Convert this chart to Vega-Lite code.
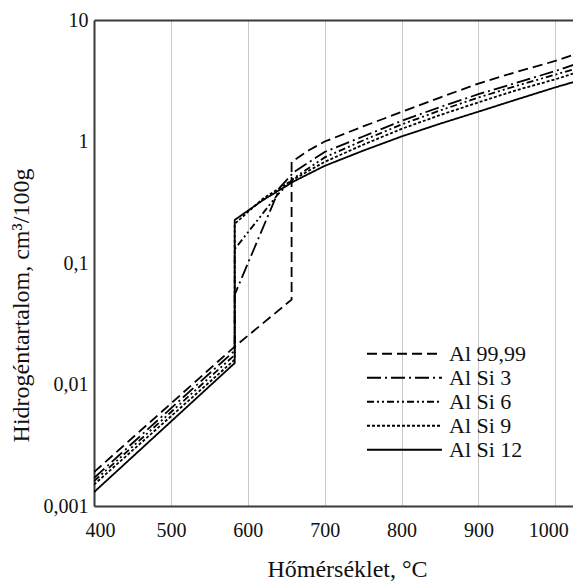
{
  "$schema": "https://vega.github.io/schema/vega-lite/v6.json",
  "width": 479,
  "height": 486,
  "autosize": {"type": "none"},
  "padding": {"left": 94, "top": 20, "right": 0, "bottom": 77},
  "background": "white",
  "config": {
    "view": {"stroke": null},
    "font": "Liberation Serif",
    "axis": {"labelFont": "Liberation Serif", "titleFont": "Liberation Serif", "labelColor": "#111", "titleColor": "#111", "titleFontWeight": "normal"}
  },
  "data": {"values": [
    {"alloy": "Al 99,99", "i": 0, "t": 400, "h": 0.0019},
    {"alloy": "Al 99,99", "i": 1, "t": 583, "h": 0.0205},
    {"alloy": "Al 99,99", "i": 2, "t": 657, "h": 0.05},
    {"alloy": "Al 99,99", "i": 3, "t": 657, "h": 0.68},
    {"alloy": "Al 99,99", "i": 4, "t": 680, "h": 0.85},
    {"alloy": "Al 99,99", "i": 5, "t": 700, "h": 1.0},
    {"alloy": "Al 99,99", "i": 6, "t": 750, "h": 1.33},
    {"alloy": "Al 99,99", "i": 7, "t": 800, "h": 1.75},
    {"alloy": "Al 99,99", "i": 8, "t": 850, "h": 2.3},
    {"alloy": "Al 99,99", "i": 9, "t": 900, "h": 3.0},
    {"alloy": "Al 99,99", "i": 10, "t": 950, "h": 3.75},
    {"alloy": "Al 99,99", "i": 11, "t": 1000, "h": 4.6},
    {"alloy": "Al 99,99", "i": 12, "t": 1025, "h": 5.2},

    {"alloy": "Al Si 3", "i": 0, "t": 400, "h": 0.0017},
    {"alloy": "Al Si 3", "i": 1, "t": 583, "h": 0.019},
    {"alloy": "Al Si 3", "i": 2, "t": 583, "h": 0.055},
    {"alloy": "Al Si 3", "i": 3, "t": 642, "h": 0.42},
    {"alloy": "Al Si 3", "i": 4, "t": 660, "h": 0.56},
    {"alloy": "Al Si 3", "i": 5, "t": 700, "h": 0.82},
    {"alloy": "Al Si 3", "i": 6, "t": 750, "h": 1.1},
    {"alloy": "Al Si 3", "i": 7, "t": 800, "h": 1.48},
    {"alloy": "Al Si 3", "i": 8, "t": 850, "h": 1.92},
    {"alloy": "Al Si 3", "i": 9, "t": 900, "h": 2.45},
    {"alloy": "Al Si 3", "i": 10, "t": 950, "h": 3.05},
    {"alloy": "Al Si 3", "i": 11, "t": 1000, "h": 3.8},
    {"alloy": "Al Si 3", "i": 12, "t": 1025, "h": 4.3},

    {"alloy": "Al Si 6", "i": 0, "t": 400, "h": 0.0016},
    {"alloy": "Al Si 6", "i": 1, "t": 583, "h": 0.0175},
    {"alloy": "Al Si 6", "i": 2, "t": 583, "h": 0.13},
    {"alloy": "Al Si 6", "i": 3, "t": 638, "h": 0.36},
    {"alloy": "Al Si 6", "i": 4, "t": 660, "h": 0.5},
    {"alloy": "Al Si 6", "i": 5, "t": 700, "h": 0.74},
    {"alloy": "Al Si 6", "i": 6, "t": 750, "h": 1.02},
    {"alloy": "Al Si 6", "i": 7, "t": 800, "h": 1.38},
    {"alloy": "Al Si 6", "i": 8, "t": 850, "h": 1.8},
    {"alloy": "Al Si 6", "i": 9, "t": 900, "h": 2.3},
    {"alloy": "Al Si 6", "i": 10, "t": 950, "h": 2.88},
    {"alloy": "Al Si 6", "i": 11, "t": 1000, "h": 3.55},
    {"alloy": "Al Si 6", "i": 12, "t": 1025, "h": 3.95},

    {"alloy": "Al Si 9", "i": 0, "t": 400, "h": 0.0015},
    {"alloy": "Al Si 9", "i": 1, "t": 583, "h": 0.016},
    {"alloy": "Al Si 9", "i": 2, "t": 583, "h": 0.21},
    {"alloy": "Al Si 9", "i": 3, "t": 620, "h": 0.34},
    {"alloy": "Al Si 9", "i": 4, "t": 660, "h": 0.49},
    {"alloy": "Al Si 9", "i": 5, "t": 700, "h": 0.68},
    {"alloy": "Al Si 9", "i": 6, "t": 750, "h": 0.94},
    {"alloy": "Al Si 9", "i": 7, "t": 800, "h": 1.27},
    {"alloy": "Al Si 9", "i": 8, "t": 850, "h": 1.65},
    {"alloy": "Al Si 9", "i": 9, "t": 900, "h": 2.1},
    {"alloy": "Al Si 9", "i": 10, "t": 950, "h": 2.65},
    {"alloy": "Al Si 9", "i": 11, "t": 1000, "h": 3.25},
    {"alloy": "Al Si 9", "i": 12, "t": 1025, "h": 3.65},

    {"alloy": "Al Si 12", "i": 0, "t": 400, "h": 0.0013},
    {"alloy": "Al Si 12", "i": 1, "t": 583, "h": 0.015},
    {"alloy": "Al Si 12", "i": 2, "t": 583, "h": 0.226},
    {"alloy": "Al Si 12", "i": 3, "t": 620, "h": 0.33},
    {"alloy": "Al Si 12", "i": 4, "t": 660, "h": 0.47},
    {"alloy": "Al Si 12", "i": 5, "t": 700, "h": 0.63},
    {"alloy": "Al Si 12", "i": 6, "t": 750, "h": 0.84},
    {"alloy": "Al Si 12", "i": 7, "t": 800, "h": 1.1},
    {"alloy": "Al Si 12", "i": 8, "t": 850, "h": 1.4},
    {"alloy": "Al Si 12", "i": 9, "t": 900, "h": 1.76},
    {"alloy": "Al Si 12", "i": 10, "t": 950, "h": 2.22},
    {"alloy": "Al Si 12", "i": 11, "t": 1000, "h": 2.79},
    {"alloy": "Al Si 12", "i": 12, "t": 1025, "h": 3.1}
  ]},
  "resolve": {"axis": {"x": "independent"}},
  "layer": [
    {
      "mark": {"type": "line", "clip": true, "color": "black", "strokeWidth": 1.8},
      "encoding": {
        "x": {
          "field": "t", "type": "quantitative",
          "scale": {"domain": [400, 1023], "nice": false, "zero": false},
          "axis": {
            "values": [400, 500, 600, 700, 800, 900, 1000],
            "format": "d",
            "grid": true, "gridColor": "#c8c8c8", "gridWidth": 1,
            "ticks": false, "domain": true, "domainColor": "#3a3a3a", "domainWidth": 2,
            "labelFlush": false, "labelFontSize": 20, "labelBaseline": "alphabetic", "labelPadding": 30,
            "labelOffset": {"condition": [{"test": "datum.value == 1000", "value": -7}, {"test": "datum.value == 400", "value": 6}], "value": 0},
            "title": "Hőmérséklet, °C", "titleFontSize": 24,
            "titleX": 253, "titleY": 70, "titleBaseline": "alphabetic", "titleAlign": "center"
          }
        },
        "y": {
          "field": "h", "type": "quantitative",
          "scale": {"type": "log", "domain": [0.001, 10], "nice": false},
          "axis": {
            "values": [0.001, 0.01, 0.1, 1, 10],
            "labelExpr": "replace(toString(datum.value), '.', ',')",
            "grid": false, "ticks": false, "domain": true, "domainColor": "#3a3a3a", "domainWidth": 2,
            "labelFlush": false, "labelOverlap": false, "labelFontSize": 20, "labelPadding": 6,
            "title": "Hidrogéntartalom, cm³/100g", "titleFontSize": 24,
            "titleX": -66, "titleY": 285, "titleBaseline": "alphabetic", "titleAlign": "center"
          }
        },
        "strokeDash": {
          "field": "alloy", "type": "nominal",
          "scale": {
            "domain": ["Al 99,99", "Al Si 3", "Al Si 6", "Al Si 9", "Al Si 12"],
            "range": [[10, 5], [14, 4, 2, 4], [7, 3, 2, 3, 2, 3], [3, 2], [1, 0]]
          },
          "legend": {
            "orient": "none", "legendX": 272, "legendY": 322, "title": null, "padding": 0,
            "symbolType": "stroke", "symbolSize": 5625, "symbolStrokeWidth": 1.8, "symbolStrokeColor": "black",
            "labelFont": "Liberation Serif", "labelFontSize": 22, "labelColor": "#111",
            "clipHeight": 23.5, "rowPadding": 0, "labelOffset": 6
          }
        },
        "order": {"field": "i", "type": "quantitative"}
      }
    },
    {
      "mark": {"type": "rule", "opacity": 0},
      "encoding": {
        "x": {
          "field": "t", "type": "quantitative",
          "axis": {"orient": "top", "labels": false, "ticks": false, "grid": false, "domain": true, "domainColor": "#3a3a3a", "domainWidth": 2, "title": null}
        }
      }
    }
  ]
}
